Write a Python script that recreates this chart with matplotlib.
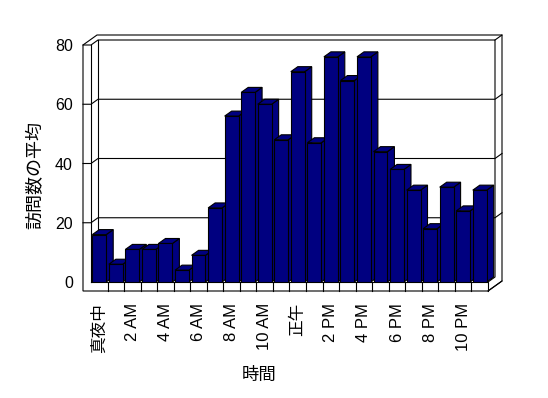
import numpy as np
import matplotlib
matplotlib.use("Agg")
import matplotlib.pyplot as plt
from matplotlib.patches import Polygon

plt.rcParams["font.family"] = ["Liberation Sans", "Noto Sans CJK JP", "DejaVu Sans"]

# data
hours = list(range(24))
hour_labels = [
    "真夜中", "1 AM", "2 AM", "3 AM", "4 AM", "5 AM", "6 AM", "7 AM",
    "8 AM", "9 AM", "10 AM", "11 AM", "正午", "1 PM", "2 PM", "3 PM",
    "4 PM", "5 PM", "6 PM", "7 PM", "8 PM", "9 PM", "10 PM", "11 PM",
]
avg_visits = [16, 6, 11, 11, 13, 4, 9, 25, 56, 64, 60, 48,
              71, 47, 76, 68, 76, 44, 38, 31, 18, 32, 24, 31]
y_ticks = [0, 20, 40, 60, 80]

NAVY = "#000080"
DX, DY = 7, 5          # depth offset in pixels
WALL, FLOOR = 8, 9     # wall / floor thickness in pixels
LW = 0.8

fig = plt.figure(figsize=(5.48, 3.98), dpi=100)
ax = fig.add_axes([91 / 548, 116 / 398, 397 / 548, 237 / 398])
ax.set_xlim(-0.5, 23.5)
ax.set_ylim(0, 80)
ax.patch.set_visible(False)
for s in ax.spines.values():
    s.set_visible(False)


def to_data(pts):
    return ax.transData.inverted().transform(np.asarray(pts, dtype=float))


def px(x, y):
    return ax.transData.transform((x, y))


def line(pts, z=1):
    pts = to_data(pts)
    ax.plot(pts[:, 0], pts[:, 1], color="black", lw=LW, zorder=z,
            clip_on=False, solid_capstyle="projecting")


L, B = px(-0.5, 0)
R, T = px(23.5, 80)

# outer shell of walls and floor
shell = [(L - WALL, B - FLOOR), (R, B - FLOOR), (R + 2 * DX, B - FLOOR + 2 * DY),
         (R + 2 * DX, T + 2 * DY), (L - WALL + 2 * DX, T + 2 * DY), (L - WALL, T)]
ax.add_patch(Polygon(to_data(shell), closed=True, facecolor="white",
                     edgecolor="black", lw=LW, zorder=1, clip_on=False))

# front edges of left wall and floor
line([(L, B), (L, T)])
line([(L - WALL, T), (L, T), (L + DX, T + DY), (R + DX, T + DY),
      (R + DX, B + DY), (R, B)])
line([(L, B), (R, B), (R, B - FLOOR)])
line([(L + DX, T + DY), (L + DX, B + DY)])
line([(R + DX, T + DY), (R + 2 * DX, T + 2 * DY)])
line([(R, B - FLOOR), (R + 2 * DX, B - FLOOR + 2 * DY)])

# gridlines on walls
for v in y_ticks[1:-1]:
    _, yv = px(0, v)
    line([(L - WALL, yv), (L, yv), (L + DX, yv + DY), (R + DX, yv + DY),
          (R + 2 * DX, yv + 2 * DY)])

# floor front cells
for h in hours[:-1]:
    xb, _ = px(h + 0.5, 0)
    line([(xb, B), (xb, B - FLOOR)])

# bars with depth
width = 0.84
bars = ax.bar(hours, avg_visits, width=width, color=NAVY, edgecolor="black",
              linewidth=LW)
for i, (h, v) in enumerate(zip(hours, avg_visits)):
    x0, y0 = px(h - width / 2, 0)
    x1, y1 = px(h + width / 2, v)
    top = [(x0, y1), (x1, y1), (x1 + DX, y1 + DY), (x0 + DX, y1 + DY)]
    side = [(x1, y0), (x1 + DX, y0 + DY), (x1 + DX, y1 + DY), (x1, y1)]
    z = 3 + i * 0.1
    for face in (side, top):
        ax.add_patch(Polygon(to_data(face), closed=True, facecolor=NAVY,
                             edgecolor="black", lw=LW, zorder=z, clip_on=False))
    bars.patches[i].set_zorder(z + 0.05)

# ticks
ax.set_yticks(y_ticks)
ax.tick_params(axis="y", length=0, pad=13, labelsize=11.5)
ax.set_xticks(hours[::2], hour_labels[::2], rotation=90)
ax.tick_params(axis="x", length=0, pad=15, labelsize=12)

fig.text(36 / 548, 1 - 175 / 398, "訪問数の平均", rotation=90,
         ha="center", va="center", fontsize=13)
fig.text(259 / 548, 1 - 375 / 398, "時間", ha="center", va="center",
         fontsize=12.5)

fig.savefig("out.png", dpi=100)
